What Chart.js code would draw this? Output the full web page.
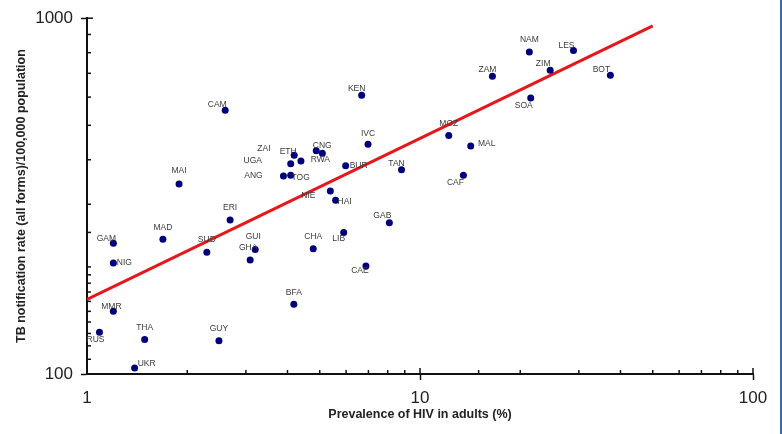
<!DOCTYPE html>
<html lang="en">
<head>
  <meta charset="UTF-8" />
  <title>TB notification vs HIV prevalence</title>
  <script src="https://cdn.jsdelivr.net/npm/chart.js"></script>
  <style>
    body { margin: 0; background: #ffffff; }
    .wrap { position: relative; width: 782px; height: 434px; }
    .edge { position: absolute; left: 780px; top: 0; width: 2px; height: 434px; background: #3a6aa6; }
  </style>
</head>
<body>
  <div class="wrap">
    <canvas id="tbChart" width="782" height="434"></canvas>
    <div class="edge"></div>
  </div>

  <script>
    // country codes, adult HIV prevalence (%), TB notification rate per 100,000
    const codes = ['GAM','NIG','MAD','ERI','SUD','GHA','GUI','MMR','RUS','THA','GUY','UKR','CAM','MAI',
                   'KEN','IVC','MOZ','ETH','ZAI','UGA','ANG','TOG','CNG','RWA','BUR','TAN','NIE','HAI',
                   'GAB','LIB','CHA','CAE','BFA','NAM','LES','ZAM','ZIM','BOT','SOA','MAL','CAF'];
    const hivPrev = [1.2, 1.2, 1.69, 2.69, 2.29, 3.09, 3.2, 1.2, 1.09, 1.49, 2.49, 1.39, 2.6, 1.89,
                     6.68, 6.98, 12.2, 4.19, 4.39, 4.09, 3.89, 4.09, 4.88, 5.09, 5.98, 8.8, 5.38, 5.58,
                     8.09, 5.9, 4.78, 6.88, 4.18, 21.3, 28.9, 16.5, 24.6, 37.3, 21.5, 14.2, 13.5];
    const tbRate = [233, 205, 239, 271, 220, 209, 224, 150, 131, 125, 124, 104, 551, 342,
                    607, 442, 468, 412, 397, 390, 360, 362, 424, 417, 385, 375, 327, 308,
                    266, 250, 225, 201, 157, 803, 811, 687, 714, 691, 597, 437, 362];

    // regression line end points
    const fitX = [1, 50];
    const fitY = [162, 952];

    const xTickLabels = [1, 10, 100];
    const yTickLabels = [100, 1000];

    // where each code label sits relative to its dot (px)
    const labelShift = [[-7,-5],[11,0],[0,-12],[0,-12],[0,-13],[-2,-12],[-2,-13],[-2,-5],[-4,7],[0,-12],[0,-12],[12,-4],[-8,-6],[0,-13],
                        [-5,-7],[0,-11],[0,-12],[-6,-4],[-37,-12],[-38,-3],[-30,0],[10,2],[6,-5],[-2,6],[13,0],[-5,-6],[-22,5],[9,1],
                        [-7,-7],[-5,6],[0,-12],[-6,5],[0,-12],[0,-12],[-7,-5],[-5,-7],[-7,-7],[-9,-6],[-7,8],[16,-2],[-8,7]];

    const isMajor = (v, list) => list.some(t => Math.abs(t - v) < 1e-6);

    // code labels + inner tick marks
    const extras = {
      id: 'extras',
      afterDraw(chart) {
        const c = chart.ctx;
        const xs = chart.scales.x, ys = chart.scales.y;
        c.save();
        c.strokeStyle = '#111';
        c.lineWidth = 1.5;
        xs.ticks.forEach(t => {
          const px = xs.getPixelForValue(t.value);
          if (px <= xs.left + 1) return;
          c.beginPath();
          c.moveTo(px, ys.bottom);
          c.lineTo(px, ys.bottom - (isMajor(t.value, xTickLabels) ? 6 : 4));
          c.stroke();
        });
        ys.ticks.forEach(t => {
          const py = ys.getPixelForValue(t.value);
          if (py >= ys.bottom - 1) return;
          c.beginPath();
          c.moveTo(xs.left, py);
          c.lineTo(xs.left + (isMajor(t.value, yTickLabels) ? 6 : 4), py);
          c.stroke();
        });

        c.fillStyle = '#3a3a3a';
        c.font = '8.5px "Liberation Sans", Arial, sans-serif';
        c.textAlign = 'center';
        c.textBaseline = 'middle';
        const meta = chart.getDatasetMeta(1);
        meta.data.forEach((pt, i) => {
          c.fillText(codes[i], pt.x + labelShift[i][0], pt.y + labelShift[i][1]);
        });
        c.restore();
      }
    };

    const axisFont = { family: '"Liberation Sans", Arial, sans-serif', size: 17 };
    const titleFont = { family: '"Liberation Sans", Arial, sans-serif', size: 12.5, weight: 'bold' };

    new Chart(document.getElementById('tbChart'), {
      type: 'scatter',
      data: {
        datasets: [
          {
            type: 'line',
            data: fitX.map((x, i) => ({ x: x, y: fitY[i] })),
            borderColor: '#e8161b',
            borderWidth: 3,
            pointRadius: 0,
            order: 1
          },
          {
            data: hivPrev.map((x, i) => ({ x: x, y: tbRate[i] })),
            backgroundColor: '#00007a',
            borderWidth: 0,
            pointRadius: 3.5,
            order: 0
          }
        ]
      },
      options: {
        responsive: false,
        animation: false,
        layout: { padding: { top: 17, right: 29, left: 0, bottom: 0 } },
        plugins: { legend: { display: false }, tooltip: { enabled: false } },
        scales: {
          x: {
            type: 'logarithmic',
            min: 1,
            max: 100,
            afterFit: s => { s.height = 60; },
            grid: {
              drawOnChartArea: false,
              tickLength: 6,
              tickWidth: 1.5,
              tickColor: ctx => isMajor(ctx.tick.value, xTickLabels) && ctx.tick.value > 1 ? '#111' : 'rgba(0,0,0,0)'
            },
            border: { display: true, color: '#111', width: 2 },
            ticks: {
              autoSkip: false,
              maxRotation: 0,
              padding: 8,
              color: '#222',
              font: axisFont,
              callback: v => isMajor(v, xTickLabels) ? String(v) : ''
            },
            title: {
              display: true,
              text: 'Prevalence of HIV in adults (%)',
              color: '#222',
              font: titleFont,
              padding: { top: 0, bottom: 12 }
            }
          },
          y: {
            type: 'logarithmic',
            min: 100,
            max: 1000,
            afterFit: s => { s.width = 87; },
            grid: {
              drawOnChartArea: false,
              tickLength: 6,
              tickWidth: 1.5,
              tickColor: ctx => isMajor(ctx.tick.value, yTickLabels) ? '#111' : 'rgba(0,0,0,0)'
            },
            border: { display: true, color: '#111', width: 2 },
            ticks: {
              autoSkip: false,
              padding: 8,
              color: '#222',
              font: axisFont,
              callback: v => isMajor(v, yTickLabels) ? String(v) : ''
            },
            title: {
              display: true,
              text: 'TB notification rate (all forms)/100,000 population',
              color: '#222',
              font: titleFont,
              padding: { top: 14, bottom: 0 }
            }
          }
        }
      },
      plugins: [extras]
    });
  </script>
</body>
</html>
